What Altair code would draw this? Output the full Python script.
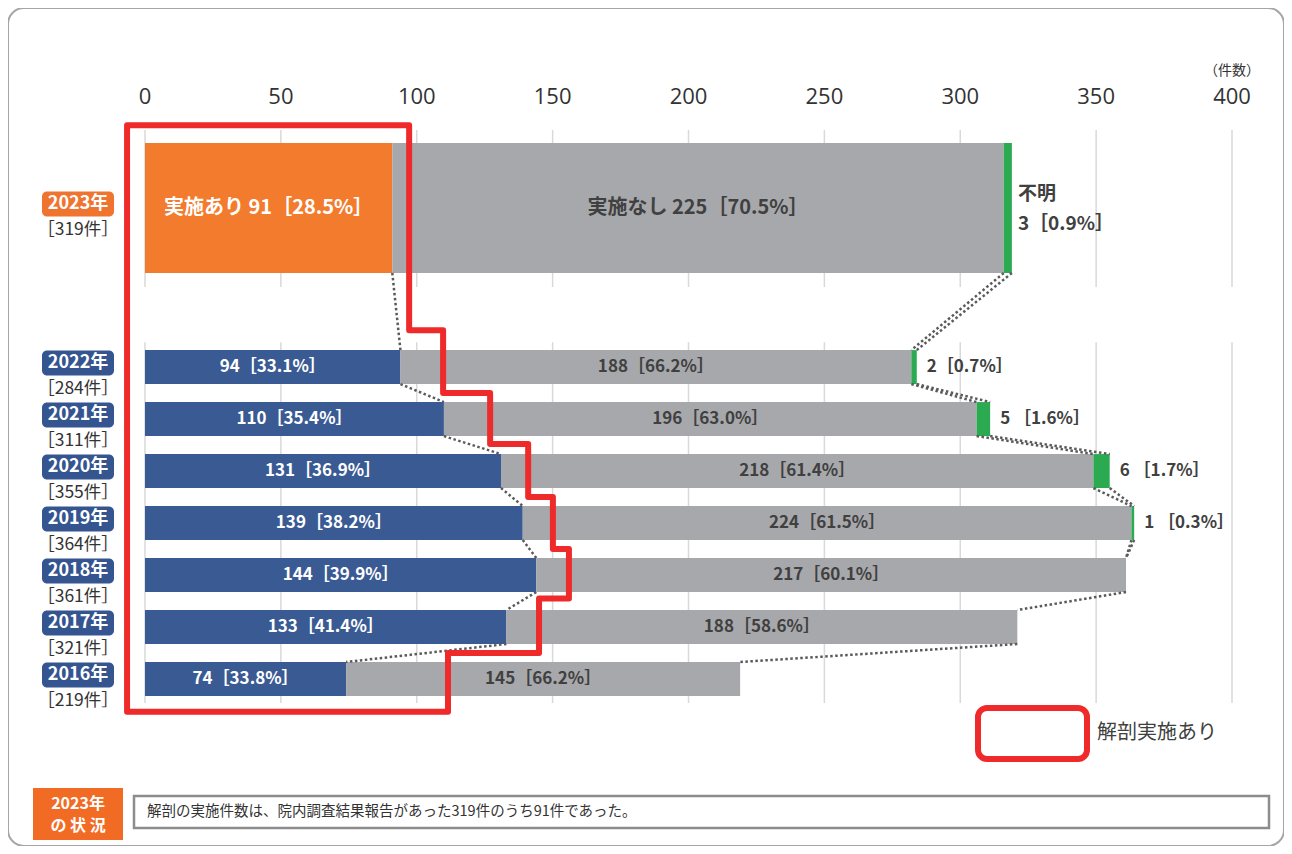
import altair as alt
import pandas as pd

# ---------------- data ----------------
years = ["2023年", "2022年", "2021年", "2020年", "2019年", "2018年", "2017年", "2016年"]
totals = [319, 284, 311, 355, 364, 361, 321, 219]
yes_counts = [91, 94, 110, 131, 139, 144, 133, 74]
yes_pcts = ["28.5", "33.1", "35.4", "36.9", "38.2", "39.9", "41.4", "33.8"]
no_counts = [225, 188, 196, 218, 224, 217, 188, 145]
no_pcts = ["70.5", "66.2", "63.0", "61.4", "61.5", "60.1", "58.6", "66.2"]
unk_counts = [3, 2, 5, 6, 1, 0, 0, 0]
unk_pcts = ["0.9", "0.7", "1.6", "1.7", "0.3", "", "", ""]
tick_values = [0, 50, 100, 150, 200, 250, 300, 350, 400]
unit_label = "（件数）"
legend_label = "解剖実施あり"
footer_title = ["2023年", "の 状 況"]
footer_text = "解剖の実施件数は、院内調査結果報告があった319件のうち91件であった。"

# red outline vertices (x in counts, y in row units) - annotation
red_x = [-6.6, 97.2, 97.2, 109.7, 109.7, 127.0, 127.0, 141.0, 141.0, 150.1, 150.1,
         156.0, 156.0, 145.0, 145.0, 111.5, 111.5, -6.6, -6.6]
red_y = [-4.65, -4.65, -0.71, -0.71, 0.50, 0.50, 1.48, 1.48, 2.50, 2.50, 3.50,
         3.50, 4.45, 4.45, 5.50, 5.50, 6.63, 6.63, -4.65]

# ---------------- layout / style ----------------
ROW_POS = [-3.06, 0, 1, 2, 3, 4, 5, 6]
HALF = [1.25] + [0.327] * 7
ROW_PX = 52.0
UNIT_PX = 2.7175

X = alt.Scale(domain=[0, 400], range=[137, 1224], nice=False, zero=False)
Y = alt.Scale(domain=[-3.06, 6], range=[200, 671], nice=False, zero=False)

JP = "Noto Sans CJK JP"
DARK = "#404040"
ORANGE = "#F37B2D"
BADGE_OR = "#EF7430"
BLUE = "#3A5A93"
BADGE_BL = "#34558F"
GRAY = "#A7A8AB"
GREEN = "#2BAA52"
RED = "#EE2A2A"


def px(v):
    return v / UNIT_PX


def ry(v):
    return v / ROW_PX


def ex(f="x"):
    return alt.X(f"{f}:Q", scale=X, axis=None)


def ey(f="y"):
    return alt.Y(f"{f}:Q", scale=Y, axis=None)


# ---- bar segments ----
seg = []
for i in range(len(years)):
    r, h = ROW_POS[i], HALF[i]
    a = yes_counts[i]
    b = a + no_counts[i]
    c = b + unk_counts[i]
    seg.append(dict(x=0, x2=a, y=r - h, y2=r + h, c=ORANGE if i == 0 else BLUE))
    seg.append(dict(x=a, x2=b, y=r - h, y2=r + h, c=GRAY))
    if unk_counts[i] > 0:
        seg.append(dict(x=b, x2=c, y=r - h, y2=r + h, c=GREEN))
bars = alt.Chart(pd.DataFrame(seg)).mark_rect().encode(
    x=ex(), x2="x2:Q", y=ey(), y2="y2:Q", color=alt.Color("c:N", scale=None)
)

# ---- gridlines ----
grid_rows = []
for t in tick_values:
    for a, b in [(-4.56, -1.54), (-0.48, 6.46)]:
        grid_rows.append(dict(x=t, y=a, y2=b))
grid = alt.Chart(pd.DataFrame(grid_rows)).mark_rule(color="#D9D9D9", strokeWidth=1.5).encode(
    x=ex(), y=ey(), y2="y2:Q"
)

# ---- tick labels ----
tick_df = pd.DataFrame(dict(x=tick_values, y=[ry(97 - 367)] * len(tick_values),
                            t=[str(v) for v in tick_values]))
ticks = alt.Chart(tick_df).mark_text(font="Open Sans", fontSize=22, color="#333333",
                                     baseline="middle").encode(x=ex(), y=ey(), text="t:N")
unit = alt.Chart(pd.DataFrame(dict(x=[400], y=[ry(71 - 367)], t=[unit_label]))).mark_text(
    font=JP, fontSize=14, color="#333333", baseline="middle").encode(x=ex(), y=ey(), text="t:N")

# ---- connectors ----
con = []
for i in range(len(years) - 1):
    r0, h0 = ROW_POS[i], HALF[i]
    r1, h1 = ROW_POS[i + 1], HALF[i + 1]
    b0 = [yes_counts[i], yes_counts[i] + no_counts[i], totals[i]]
    b1 = [yes_counts[i + 1], yes_counts[i + 1] + no_counts[i + 1], totals[i + 1]]
    seen = set()
    for p, q in zip(b0, b1):
        if (p, q) in seen:
            continue
        seen.add((p, q))
        con.append(dict(x=p, x2=q, y=r0 + h0, y2=r1 - h1))
connectors = alt.Chart(pd.DataFrame(con)).mark_rule(
    color="#5A5A5A", strokeWidth=2.5, strokeDash=[2.5, 2.5]
).encode(x=ex(), x2="x2:Q", y=ey(), y2="y2:Q")

# ---- bar labels ----
lab = []
for i in range(len(years)):
    r = ROW_POS[i]
    a = yes_counts[i]
    n = no_counts[i]
    if i == 0:
        lab.append(dict(x=a / 2, y=r, t=f"実施あり {a}［{yes_pcts[i]}%］", c="white", s=20))
        lab.append(dict(x=a + n / 2, y=r, t=f"実施なし {n}［{no_pcts[i]}%］", c=DARK, s=20))
    else:
        lab.append(dict(x=a / 2, y=r, t=f"{a}［{yes_pcts[i]}%］", c="white", s=17))
        lab.append(dict(x=a + n / 2, y=r, t=f"{n}［{no_pcts[i]}%］", c=DARK, s=17))
labels = alt.Chart(pd.DataFrame(lab)).mark_text(font=JP, fontWeight="bold", baseline="middle").encode(
    x=ex(), y=ey(), text="t:N", color=alt.Color("c:N", scale=None), size=alt.Size("s:Q", scale=None)
)

ulab = []
for i in range(1, len(years)):
    if unk_counts[i] > 0:
        sep = "" if i == 1 else " "
        ulab.append(dict(x=totals[i], y=ROW_POS[i], t=f"{unk_counts[i]}{sep}［{unk_pcts[i]}%］"))
unk_labels = alt.Chart(pd.DataFrame(ulab)).mark_text(
    font=JP, fontWeight="bold", fontSize=17, color=DARK, align="left", baseline="middle", dx=10
).encode(x=ex(), y=ey(), text="t:N")

unk23 = alt.Chart(pd.DataFrame(dict(
    x=[totals[0], totals[0]],
    y=[ROW_POS[0] + ry(-14), ROW_POS[0] + ry(16)],
    t=["不明", f"{unk_counts[0]}［{unk_pcts[0]}%］"]))).mark_text(
    font=JP, fontWeight="bold", fontSize=19, color=DARK, align="left", baseline="middle", dx=6
).encode(x=ex(), y=ey(), text="t:N")

# ---- year badges ----
bx0, bx1 = px(42 - 145), px(114 - 145)
bxc = px(78 - 145)
badge_rows = []
for i in range(len(years)):
    yc = ROW_POS[i] + ry(-4)
    badge_rows.append(dict(x=bx0, x2=bx1, y=yc - ry(12.5), y2=yc + ry(12.5),
                           c=BADGE_OR if i == 0 else BADGE_BL, xc=bxc, yc=yc,
                           t=years[i], yk=ROW_POS[i] + ry(22), k=f"［{totals[i]}件］"))
bdf = pd.DataFrame(badge_rows)
badges = alt.Chart(bdf).mark_rect(cornerRadius=5).encode(
    x=ex(), x2="x2:Q", y=ey(), y2="y2:Q", color=alt.Color("c:N", scale=None))
badge_txt = alt.Chart(bdf).mark_text(font=JP, fontWeight="bold", fontSize=18, color="white",
                                     baseline="middle").encode(x=ex("xc"), y=ey("yc"), text="t:N")
count_txt = alt.Chart(bdf).mark_text(font=JP, fontSize=17.5, color="#333333",
                                     baseline="middle").encode(x=ex("xc"), y=ey("yk"), text="k:N")

# ---- red outline ----
red_df = pd.DataFrame(dict(x=red_x, y=red_y, o=list(range(len(red_x)))))
red = alt.Chart(red_df).mark_line(color=RED, strokeWidth=6, strokeJoin="round", strokeCap="round").encode(
    x=ex(), y=ey(), order="o:Q")

# ---- legend ----
leg_box = alt.Chart(pd.DataFrame(dict(x=[px(978 - 145)], x2=[px(1087 - 145)],
                                      y=[ry(708 - 367)], y2=[ry(759 - 367)]))).mark_rect(
    fill="white", stroke=RED, strokeWidth=6, cornerRadius=9).encode(x=ex(), x2="x2:Q", y=ey(), y2="y2:Q")
leg_txt = alt.Chart(pd.DataFrame(dict(x=[px(1097 - 145)], y=[ry(733 - 367)], t=[legend_label]))).mark_text(
    font=JP, fontSize=20, color=DARK, align="left", baseline="middle").encode(x=ex(), y=ey(), text="t:N")

# ---- footer ----
foot_or = alt.Chart(pd.DataFrame(dict(x=[px(33 - 145)], x2=[px(123 - 145)],
                                      y=[ry(788 - 367)], y2=[ry(840 - 367)]))).mark_rect(
    fill="#F26B24").encode(x=ex(), x2="x2:Q", y=ey(), y2="y2:Q")
foot_or_txt = alt.Chart(pd.DataFrame(dict(x=[px(78 - 145)] * 2, y=[ry(804 - 367), ry(826 - 367)],
                                          t=footer_title))).mark_text(
    font=JP, fontWeight="bold", fontSize=16, color="white", baseline="middle").encode(
    x=ex(), y=ey(), text="t:N")
foot_box = alt.Chart(pd.DataFrame(dict(x=[px(134 - 145)], x2=[px(1269 - 145)],
                                       y=[ry(796 - 367)], y2=[ry(828 - 367)]))).mark_rect(
    fill="white", stroke="#8C8C8C", strokeWidth=2.5).encode(x=ex(), x2="x2:Q", y=ey(), y2="y2:Q")
foot_txt = alt.Chart(pd.DataFrame(dict(x=[px(147 - 145)], y=[ry(812 - 367)], t=[footer_text]))).mark_text(
    font=JP, fontSize=14.5, color="#333333", align="left", baseline="middle").encode(
    x=ex(), y=ey(), text="t:N")

chart = alt.layer(
    grid, bars, connectors, labels, unk_labels, unk23, ticks, unit,
    badges, badge_txt, count_txt, leg_box, leg_txt,
    foot_or, foot_or_txt, foot_box, foot_txt, red
).properties(
    width=1276, height=838, padding=0,
    autosize=alt.AutoSizeParams(type="none"),
).configure_view(stroke="#A6A6A6", strokeWidth=2, cornerRadius=16)

chart.save("out.html", embed_options={"renderer": "svg", "actions": False})
